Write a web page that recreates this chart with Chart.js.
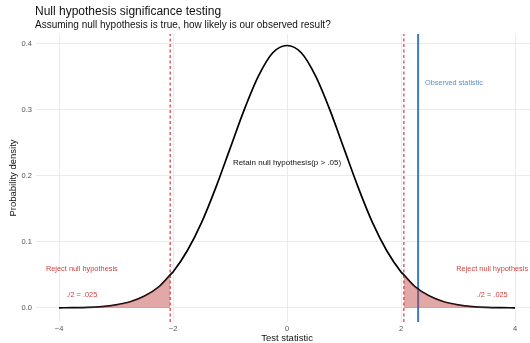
<!DOCTYPE html>
<html>
<head>
<meta charset="utf-8">
<script src="https://cdn.jsdelivr.net/npm/chart.js@4"></script>
<style>
  body { margin: 0; background: #fff; }
  #wrap { width: 530px; height: 343px; position: relative; }
</style>
</head>
<body>
<div id="wrap"><canvas id="nhstChart"></canvas></div>
<script>
// Sampled density curve of the test statistic
const xValues = [-4, -3.75, -3.5, -3.25, -3, -2.75, -2.5, -2.25, -2.05, -2, -1.75, -1.5, -1.25, -1, -0.75, -0.5, -0.25,
                 0, 0.25, 0.5, 0.75, 1, 1.25, 1.5, 1.75, 2, 2.05, 2.25, 2.5, 2.75, 3, 3.25, 3.5, 3.75, 4];
const density = [0.0003, 0.0005, 0.0010, 0.0022, 0.0048, 0.0095, 0.0180, 0.0320, 0.0500, 0.0545, 0.0865, 0.1290, 0.1820, 0.2410, 0.3000, 0.3510, 0.3860,
                 0.3970, 0.3860, 0.3510, 0.3000, 0.2410, 0.1820, 0.1290, 0.0865, 0.0545, 0.0500, 0.0320, 0.0180, 0.0095, 0.0048, 0.0022, 0.0010, 0.0005, 0.0003];
const criticalValues = [-2.05, 2.05];
const observedStat = 2.3;
const xTicks = [-4, -2, 0, 2, 4];
const yTicks = [0, 0.1, 0.2, 0.3, 0.4];

const X_MIN = -4.404, X_MAX = 4.263;
const Y_MIN = -0.0212, Y_MAX = 0.4144;

const FONT = '"Liberation Sans", Arial, Helvetica, sans-serif';
const RED = '#cf3f3f';

const curve = xValues.map((x, i) => ({ x, y: density[i] }));
const leftTail = curve.filter(p => p.x <= criticalValues[0]);
const rightTail = curve.filter(p => p.x >= criticalValues[1]);
const vline = v => [{ x: v, y: Y_MIN }, { x: v, y: Y_MAX }];

const textPlugin = {
    id: 'nhstText',
    afterDraw(chart) {
        const { ctx, scales: { x, y }, chartArea } = chart;
        const put = (txt, px, py, font, color, align) => {
            ctx.font = font;
            ctx.fillStyle = color;
            ctx.textAlign = align || 'center';
            ctx.textBaseline = 'middle';
            ctx.fillText(txt, px, py);
        };
        ctx.save();
        // titles
        put('Null hypothesis significance testing', 35, 12, '12px ' + FONT, '#111', 'left');
        put('Assuming null hypothesis is true, how likely is our observed result?', 35, 25.5, '10px ' + FONT, '#111', 'left');
        // axis titles
        put('Test statistic', x.getPixelForValue(0), 338, '9.5px ' + FONT, '#111');
        ctx.save();
        ctx.translate(13.5, (chartArea.top + chartArea.bottom) / 2);
        ctx.rotate(-Math.PI / 2);
        put('Probability density', 0, 0, '9.5px ' + FONT, '#111');
        ctx.restore();
        // annotations
        put('Retain null hypothesis(p > .05)', x.getPixelForValue(0), y.getPixelForValue(0.219), '8px ' + FONT, '#111');
        put('Observed statistic', x.getPixelForValue(2.93), y.getPixelForValue(0.341), '7.3px ' + FONT, '#5b8fca');
        [-3.6, 3.6].forEach(v => {
            put('Reject null hypothesis', x.getPixelForValue(v), y.getPixelForValue(0.059), '7.4px ' + FONT, RED);
            put('./2 = .025', x.getPixelForValue(v), y.getPixelForValue(0.0195), '7.4px ' + FONT, RED);
        });
        ctx.restore();
    }
};

const ctx = document.getElementById('nhstChart').getContext('2d');
new Chart(ctx, {
    type: 'scatter',
    data: {
        datasets: [
            { data: leftTail, showLine: true, fill: 'origin', backgroundColor: 'rgba(190,60,60,0.45)', borderWidth: 0, pointRadius: 0, cubicInterpolationMode: 'monotone' },
            { data: rightTail, showLine: true, fill: 'origin', backgroundColor: 'rgba(190,60,60,0.45)', borderWidth: 0, pointRadius: 0, cubicInterpolationMode: 'monotone' },
            { data: curve, showLine: true, borderColor: '#000', borderWidth: 1.7, pointRadius: 0, cubicInterpolationMode: 'monotone' },
            { data: vline(criticalValues[0]), showLine: true, borderColor: RED, borderWidth: 1.2, borderDash: [3, 2.5], pointRadius: 0 },
            { data: vline(criticalValues[1]), showLine: true, borderColor: RED, borderWidth: 1.2, borderDash: [3, 2.5], pointRadius: 0 },
            { data: vline(observedStat), showLine: true, borderColor: '#3a7cc3', borderWidth: 2, pointRadius: 0 }
        ]
    },
    options: {
        responsive: true,
        maintainAspectRatio: false,
        animation: false,
        layout: { padding: { top: 34, right: 0, left: 0, bottom: 0 } },
        plugins: { legend: { display: false }, tooltip: { enabled: false } },
        scales: {
            x: {
                type: 'linear', min: X_MIN, max: X_MAX,
                afterBuildTicks: s => { s.ticks = xTicks.map(value => ({ value })); },
                afterFit: s => { s.height = 21; },
                ticks: {
                    padding: 2, maxRotation: 0, autoSkip: false, color: '#555',
                    font: { family: FONT, size: 7.5 },
                    callback: v => (v < 0 ? '\u2212' + Math.abs(v) : String(v))
                },
                grid: { color: '#ebebeb', lineWidth: 1, drawTicks: false },
                border: { display: false }
            },
            y: {
                min: Y_MIN, max: Y_MAX,
                afterBuildTicks: s => { s.ticks = yTicks.map(value => ({ value })); },
                afterFit: s => { s.width = 36; },
                ticks: {
                    padding: 4, color: '#555',
                    font: { family: FONT, size: 7.5 },
                    callback: v => v.toFixed(1)
                },
                grid: { color: '#ebebeb', lineWidth: 1, drawTicks: false },
                border: { display: false }
            }
        }
    },
    plugins: [textPlugin]
});
</script>
</body>
</html>
